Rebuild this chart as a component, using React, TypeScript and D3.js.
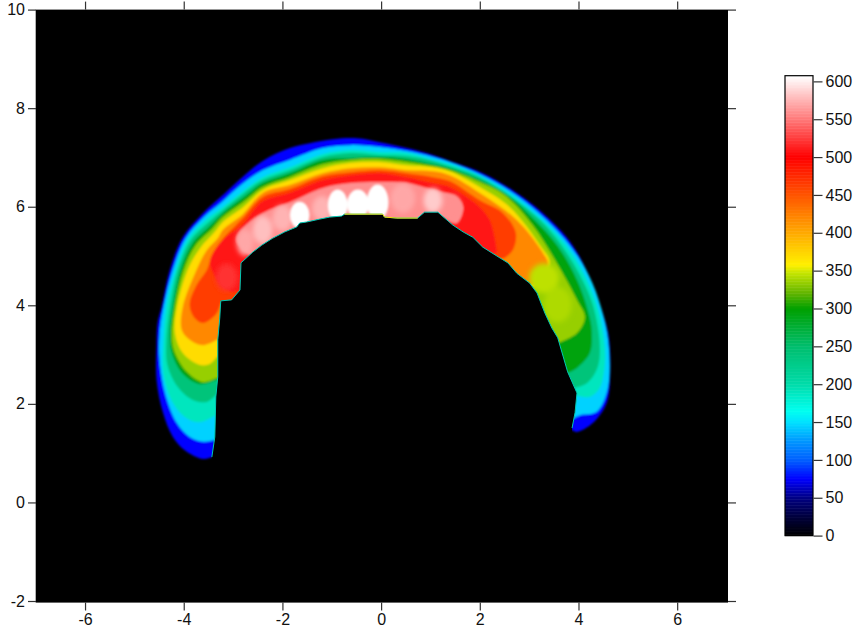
import React, { useEffect, useRef } from 'react';
import * as d3 from 'd3';

type Pt = [number, number];

// colour table of the z scale
const stopValues = [0, 25, 50, 75, 100, 125, 150, 165, 200, 250, 300, 320, 348, 358, 400, 450, 500, 550, 607];
const stopColors = [
  '#000000', '#00003c', '#000082', '#0000ff', '#005fff', '#0096ff', '#00e1ff', '#00fff0', '#00dcaa',
  '#00be6e', '#00a000', '#5fb400', '#c8e600', '#fff000', '#ffaa00', '#ff5500', '#ff0000', '#ff7878', '#ffffff',
];

const xTicks = [-6, -4, -2, 0, 2, 4, 6];
const yTicks = [-2, 0, 2, 4, 6, 8, 10];
const zTicks = [0, 50, 100, 150, 200, 250, 300, 350, 400, 450, 500, 550, 600];

// iso-lines, x/y in axis units, low to high
const contour40: Pt[] = [[-3.43,0.92],[-3.61,0.88],[-3.98,1.06],[-4.22,1.33],[-4.42,1.82],[-4.55,2.48],[-4.55,3.19],[-4.53,3.64],[-4.45,3.96],[-4.28,4.72],[-4.02,5.38],[-3.61,5.87],[-3.27,6.18],[-2.86,6.56],[-2.40,6.93],[-1.85,7.19],[-1.45,7.29],[-0.98,7.37],[-0.49,7.39],[-0.03,7.31],[0.52,7.19],[1.05,7.05],[1.53,6.88],[2.06,6.68],[2.75,6.28],[3.28,5.87],[3.76,5.38],[4.09,4.86],[4.37,4.17],[4.60,3.44],[4.64,2.55],[4.57,2.02],[4.29,1.61],[3.97,1.43],[3.87,1.47]];
const contour110: Pt[] = [[-3.37,1.27],[-3.61,1.23],[-3.88,1.33],[-4.14,1.61],[-4.37,2.18],[-4.49,2.89],[-4.49,3.40],[-4.41,3.96],[-4.22,4.72],[-3.96,5.36],[-3.57,5.81],[-3.23,6.09],[-2.84,6.44],[-2.40,6.74],[-1.85,6.95],[-1.18,7.19],[-0.61,7.25],[-0.03,7.21],[0.52,7.13],[1.05,7.01],[1.39,6.91],[2.00,6.66],[2.61,6.32],[3.22,5.85],[3.72,5.34],[4.13,4.76],[4.41,4.11],[4.60,3.30],[4.60,2.34],[4.37,1.84],[4.03,1.77],[3.91,1.71]];
const contour170: Pt[] = [[-3.35,1.77],[-3.67,1.63],[-3.94,1.71],[-4.22,2.02],[-4.41,2.59],[-4.41,3.30],[-4.35,3.96],[-4.16,4.72],[-3.90,5.36],[-3.53,5.75],[-3.21,5.99],[-2.80,6.32],[-2.40,6.60],[-1.85,6.80],[-1.18,7.07],[-0.61,7.15],[-0.03,7.11],[0.52,7.09],[1.05,6.95],[1.39,6.86],[2.00,6.62],[2.61,6.26],[3.22,5.77],[3.68,5.30],[4.09,4.67],[4.39,3.94],[4.53,3.19],[4.53,2.75],[4.43,2.32],[4.23,2.14],[3.93,2.18]];
const contour225: Pt[] = [[-3.35,2.18],[-3.53,2.04],[-3.82,2.08],[-4.12,2.34],[-4.33,2.79],[-4.35,3.30],[-4.28,3.96],[-4.12,4.72],[-3.86,5.32],[-3.49,5.69],[-3.21,5.93],[-2.80,6.26],[-2.40,6.54],[-1.85,6.74],[-1.18,7.01],[-0.61,7.09],[-0.03,7.05],[0.52,7.03],[1.05,6.93],[1.39,6.82],[2.00,6.60],[2.61,6.22],[3.22,5.73],[3.64,5.24],[4.03,4.61],[4.29,4.01],[4.43,3.23],[4.39,2.75],[4.17,2.42],[3.89,2.32]];
const contour280: Pt[] = [[-3.37,2.48],[-3.67,2.40],[-4.02,2.61],[-4.24,3.03],[-4.28,3.40],[-4.22,3.96],[-4.06,4.72],[-3.82,5.26],[-3.45,5.63],[-3.21,5.87],[-2.80,6.18],[-2.40,6.48],[-1.85,6.68],[-1.18,6.95],[-0.61,6.99],[-0.03,7.01],[0.52,6.97],[1.05,6.86],[1.39,6.78],[2.00,6.54],[2.61,6.20],[3.07,5.77],[3.58,5.20],[3.99,4.47],[4.23,3.74],[4.27,3.44],[4.23,3.03],[3.97,2.73],[3.78,2.63]];
const contour310: Pt[] = [[-3.35,2.52],[-3.61,2.44],[-3.94,2.65],[-4.20,3.09],[-4.24,3.40],[-4.18,3.96],[-4.00,4.72],[-3.76,5.22],[-3.41,5.57],[-3.21,5.79],[-2.80,6.09],[-2.40,6.40],[-1.85,6.60],[-1.18,6.86],[-0.61,6.95],[-0.03,6.97],[0.52,6.91],[1.05,6.82],[1.39,6.74],[2.00,6.50],[2.55,6.20],[3.07,5.63],[3.56,4.86],[3.97,4.11],[4.13,3.76],[3.97,3.44],[3.62,3.25]];
const contour350: Pt[] = [[-3.33,2.95],[-3.47,2.81],[-3.67,2.79],[-4.02,3.03],[-4.18,3.44],[-4.14,3.96],[-3.92,4.72],[-3.67,5.16],[-3.37,5.49],[-3.21,5.69],[-2.80,5.99],[-2.40,6.34],[-1.85,6.54],[-1.18,6.78],[-0.61,6.89],[-0.03,6.91],[0.52,6.84],[1.05,6.80],[1.39,6.72],[2.00,6.40],[2.61,5.99],[3.22,5.22],[3.42,4.86],[3.07,4.35]];
const contour400: Pt[] = [[-3.33,3.30],[-3.61,3.19],[-3.88,3.30],[-4.04,3.50],[-4.02,3.96],[-3.74,4.72],[-3.53,5.12],[-3.31,5.36],[-3.21,5.53],[-2.80,5.85],[-2.40,6.28],[-1.85,6.44],[-1.18,6.68],[-0.61,6.78],[-0.03,6.80],[0.52,6.74],[1.05,6.72],[1.39,6.64],[2.00,6.28],[2.75,5.73],[3.28,5.06],[3.38,4.82],[3.07,4.41]];
const contour450: Pt[] = [[-3.25,4.05],[-3.33,3.84],[-3.61,3.64],[-3.78,3.74],[-3.88,4.01],[-3.74,4.41],[-3.53,4.72],[-3.43,5.02],[-3.23,5.32],[-2.80,5.77],[-2.40,6.20],[-1.85,6.36],[-1.18,6.62],[-0.61,6.70],[-0.03,6.74],[0.52,6.68],[1.05,6.60],[1.39,6.52],[2.00,6.13],[2.47,5.87],[2.73,5.47],[2.67,5.12],[2.51,4.96]];
const contour500: Pt[] = [[-3.03,4.27],[-3.23,4.39],[-3.41,4.67],[-3.47,4.88],[-3.37,5.12],[-3.17,5.36],[-2.80,5.65],[-2.40,6.11],[-1.85,6.28],[-1.18,6.54],[-0.61,6.64],[-0.03,6.68],[0.52,6.60],[1.05,6.48],[1.39,6.40],[2.00,5.99],[2.20,5.73],[2.30,5.38],[2.35,5.06]];
const contour550: Pt[] = [[-2.66,5.02],[-2.93,5.32],[-2.80,5.57],[-2.40,5.87],[-1.85,6.09],[-1.18,6.38],[-0.61,6.48],[-0.03,6.50],[0.52,6.48],[1.05,6.34],[1.53,6.20],[1.66,5.99],[1.53,5.67],[1.29,5.77]];

// value painted inside each contour above
const contourFills = [75, 145, 190, 240, 295, 335, 370, 420, 465, 510, 560];
const contours = [contour40, contour110, contour170, contour225, contour280, contour310, contour350, contour400, contour450, contour500, contour550];

// local maxima: centre, half widths, value
const peakX = [3.30, 3.58, -3.13, -2.76, -2.40, -2.00, -1.20, 0.44, 1.45, 1.05, -1.65, -0.88, -0.47, -0.07];
const peakY = [4.55, 4.01, 4.57, 5.28, 5.53, 5.77, 5.97, 6.17, 5.97, 6.13, 5.83, 6.03, 6.05, 6.09];
const peakRx = [0.3, 0.28, 0.22, 0.17, 0.20, 0.20, 0.20, 0.25, 0.17, 0.19, 0.20, 0.20, 0.22, 0.22];
const peakRy = [0.3, 0.36, 0.28, 0.27, 0.28, 0.26, 0.25, 0.30, 0.27, 0.25, 0.27, 0.32, 0.30, 0.36];
const peakZ = [345, 341, 520, 570, 580, 575, 575, 570, 560, 585, 607, 607, 607, 607];

// empty inside of the arch, left tip to right tip
const hollowEdge: Pt[] = [[-3.43,0.92],[-3.37,1.33],[-3.35,2.14],[-3.31,2.55],[-3.31,3.30],[-3.27,3.74],[-3.25,4.09],[-3.03,4.11],[-2.86,4.31],[-2.84,4.86],[-2.60,5.08],[-2.42,5.22],[-2.20,5.36],[-1.95,5.49],[-1.71,5.59],[-1.65,5.67],[-1.51,5.69],[-1.24,5.75],[-1.04,5.79],[-0.80,5.81],[-0.74,5.85],[0.03,5.85],[0.07,5.79],[0.32,5.77],[0.74,5.77],[0.88,5.89],[1.15,5.89],[1.45,5.63],[1.66,5.49],[1.86,5.38],[2.06,5.18],[2.41,4.96],[2.57,4.86],[2.75,4.65],[3.01,4.45],[3.16,4.25],[3.32,3.84],[3.46,3.54],[3.58,3.34],[3.78,2.65],[3.97,2.22],[3.93,1.82],[3.87,1.51]];
// closes the hollow below the two tips
const hollowFloor: Pt[] = [[3.87,0.5],[-3.43,0.5]];

const W = 856;
const H = 629;
const fontFamily = '"Liberation Sans", Arial, sans-serif';

const x = d3.scaleLinear().domain([-7, 7.03]).range([35.7, 728]);
const y = d3.scaleLinear().domain([-2, 10]).range([601, 9.6]);
const zBar = d3.scaleLinear().domain([0, 607.5]).range([535.6, 75.7]);
const colour = d3.scaleLinear<string>().domain(stopValues).range(stopColors).clamp(true);

const smooth = d3.line<Pt>().x(d => x(d[0])).y(d => y(d[1])).curve(d3.curveCatmullRom.alpha(0.5));
const straight = d3.line<Pt>().x(d => x(d[0])).y(d => y(d[1]));

const styleAxis = (g: any) => {
  g.select('.domain').remove();
  g.selectAll('line').attr('stroke', '#333').attr('stroke-width', 1.2);
  g.selectAll('text').attr('font-family', fontFamily).attr('font-size', 16).attr('fill', '#111');
};

const peakMark = (px: number, i: number) => (
  <ellipse
    key={i}
    cx={x(px)}
    cy={y(peakY[i])}
    rx={x(peakRx[i]) - x(0)}
    ry={y(0) - y(peakRy[i])}
    fill={colour(peakZ[i])}
  />
);

const App = () => {
  const axesRef = useRef<SVGGElement>(null);

  useEffect(() => {
    const g = d3.select(axesRef.current);
    g.selectAll('*').remove();
    const fmt = (d: any) => String(d);
    g.append('g').attr('transform', 'translate(36,0)')
      .call(d3.axisLeft(y).tickValues(yTicks).tickSize(8).tickPadding(3).tickFormat(fmt)).call(styleAxis);
    g.append('g').attr('transform', 'translate(728,0)')
      .call(d3.axisRight(y).tickValues(yTicks).tickSize(8).tickFormat(() => '')).call(styleAxis);
    g.append('g').attr('transform', 'translate(0,602.5)')
      .call(d3.axisBottom(x).tickValues(xTicks).tickSize(8).tickPadding(3).tickFormat(fmt)).call(styleAxis);
    g.append('g').attr('transform', 'translate(0,9.6)')
      .call(d3.axisTop(x).tickValues(xTicks).tickSize(8).tickFormat(() => '')).call(styleAxis);
    g.append('g').attr('transform', 'translate(813.5,0)')
      .call(d3.axisRight(zBar).tickValues(zTicks).tickSize(9).tickPadding(3).tickFormat(fmt)).call(styleAxis);
  }, []);

  return (
    <svg width={W} height={H} style={{ position: 'absolute', left: 0, top: 0 }}>
      <defs>
        <filter id="soft" filterUnits="userSpaceOnUse" x={0} y={0} width={W} height={H}>
          <feGaussianBlur stdDeviation={1.3} />
        </filter>
        <filter id="softer" filterUnits="userSpaceOnUse" x={0} y={0} width={W} height={H}>
          <feGaussianBlur stdDeviation={2.4} />
        </filter>
        <clipPath id="plot">
          <rect x={36} y={9.6} width={692} height={593} />
        </clipPath>
      </defs>
      <rect width={W} height={H} fill="#fff" />
      <rect x={35.7} y={9.6} width={692.3} height={593} fill="#000" />
      <g clipPath="url(#plot)">
        <g filter="url(#soft)">
          {contours.map((c, i) => (
            <path key={i} d={smooth(c) + 'Z'} fill={colour(contourFills[i])} />
          ))}
        </g>
        <g filter="url(#softer)">{peakX.map((px, i) => (peakZ[i] < 600 ? peakMark(px, i) : null))}</g>
        <g filter="url(#soft)">{peakX.map((px, i) => (peakZ[i] >= 600 ? peakMark(px, i) : null))}</g>
        <path d={straight([...hollowEdge, ...hollowFloor]) + 'Z'} fill="#000" />
        <path d={straight(hollowEdge) ?? ''} fill="none" stroke="#00c8b4" strokeWidth={1} />
        <path d={straight(hollowEdge.filter(p => p[0] >= -0.74 && p[0] <= 0.74)) ?? ''} fill="none" stroke="#ffd800" strokeWidth={1} />
      </g>
      {d3.range(0, 607, 2).map(v => (
        <rect key={v} x={785} y={zBar(v + 2)} width={28} height={zBar(v) - zBar(v + 2) + 0.5} fill={colour(v + 1)} />
      ))}
      <rect x={785} y={75.7} width={28} height={459.9} fill="none" stroke="#000" strokeWidth={1.2} />
      <g ref={axesRef} />
    </svg>
  );
};

export default App;
